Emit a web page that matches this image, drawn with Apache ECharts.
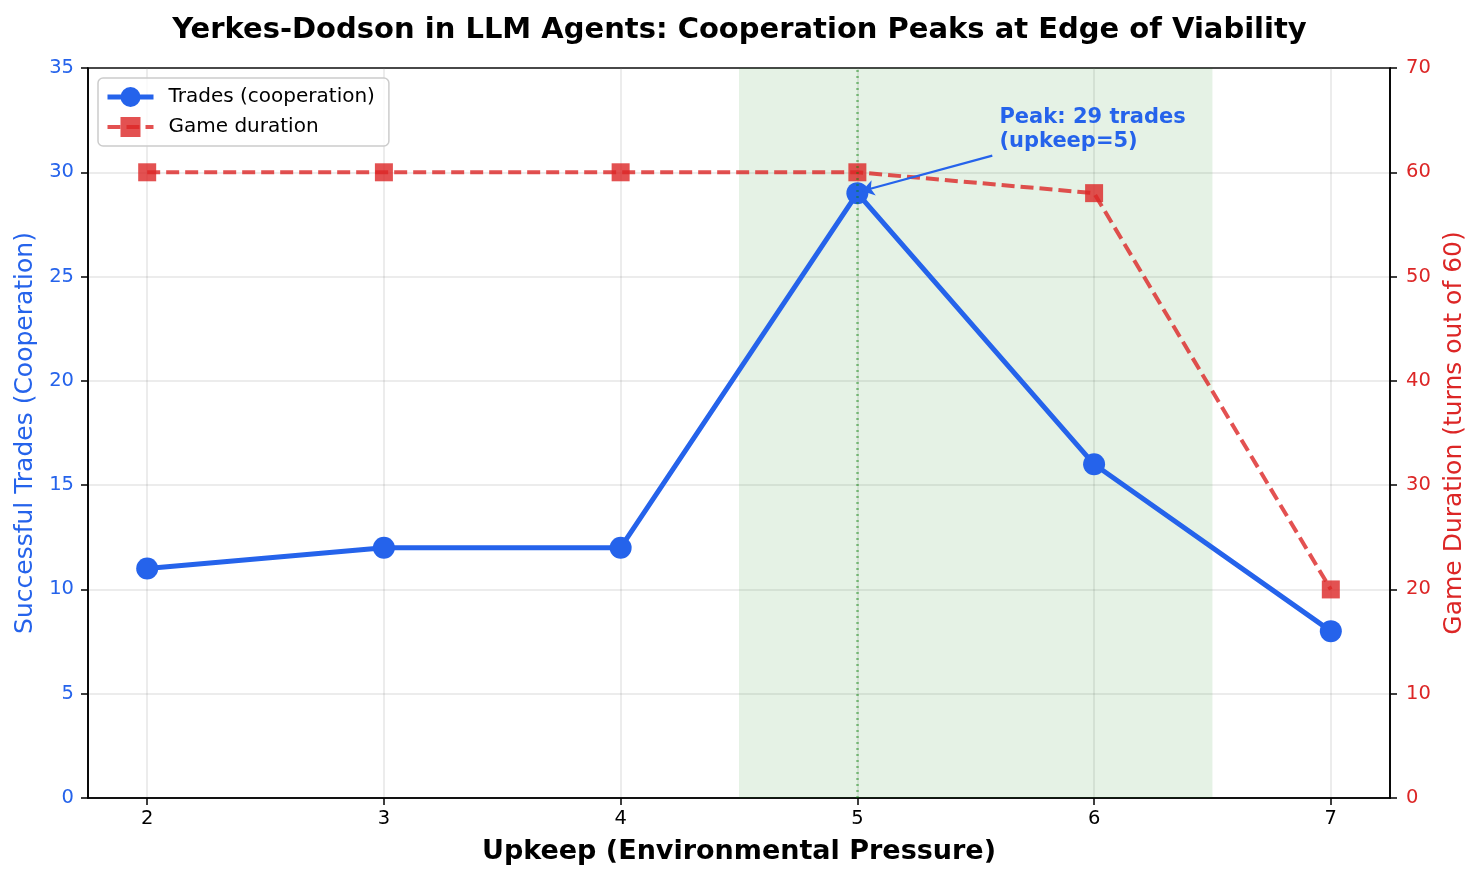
<!DOCTYPE html>
<html>
<head>
<meta charset="utf-8">
<script src="https://cdn.jsdelivr.net/npm/echarts@6/dist/echarts.min.js"></script>
<style>html,body{margin:0;padding:0;background:#fff}#c{width:1479px;height:882px}</style>
</head>
<body>
<div id="c"></div>
<script>
const upkeep = [2, 3, 4, 5, 6, 7];
const trades = [11, 12, 12, 29, 16, 8];
const duration = [60, 60, 60, 60, 58, 20];
const xTicks = [2, 3, 4, 5, 6, 7];
const leftTicks = [0, 5, 10, 15, 20, 25, 30, 35];
const rightTicks = [0, 10, 20, 30, 40, 50, 60, 70];
const peakIdx = 3;
const shadeRange = [4.5, 6.5];

const BLUE = '#2563eb';
const RED = '#dc2626';
const REDA = 'rgba(220,38,38,0.8)';
const FONT = 'DejaVu Sans';
const GRIDC = 'rgba(128,128,128,0.2)';

const chart = echarts.init(document.getElementById('c'), null, {renderer: 'canvas'});
const option = {
  backgroundColor: '#fff',
  animation: false,
  textStyle: {fontFamily: FONT},
  title: {
    text: 'Yerkes-Dodson in LLM Agents: Cooperation Peaks at Edge of Viability',
    left: 'center', top: 11,
    textStyle: {fontFamily: FONT, fontWeight: 'bold', fontSize: 29, color: '#000'}
  },
  grid: {left: 88, right: 89, top: 68, bottom: 84, show: true, borderColor: '#000', borderWidth: 1.6, backgroundColor: 'transparent'},
  legend: {
    left: 98, top: 78, orient: 'vertical',
    padding: [9, 14, 9, 7], itemGap: 10, itemWidth: 46, itemHeight: 25,
    borderColor: '#cccccc', borderWidth: 1.5, borderRadius: 5, backgroundColor: 'rgba(255,255,255,0.8)',
    lineStyle: {width: 'inherit'},
    textStyle: {fontFamily: FONT, fontSize: 20, color: '#000', padding: [0, 0, 0, 10]},
    data: ['Trades (cooperation)', 'Game duration']
  },
  xAxis: {
    type: 'value', min: 1.75, max: 7.25,
    name: 'Upkeep (Environmental Pressure)', nameLocation: 'middle', nameGap: 40,
    nameTextStyle: {fontFamily: FONT, fontWeight: 'bold', fontSize: 27, color: '#000'},
    axisLine: {show: true, onZero: false, lineStyle: {color: '#000', width: 1.6}},
    axisTick: {show: true, length: 7, lineStyle: {color: '#000', width: 1.5}, customValues: xTicks},
    axisLabel: {fontFamily: FONT, fontSize: 19.5, color: '#000', margin: 11, customValues: xTicks, formatter: v => String(v)},
    splitLine: {show: true, lineStyle: {color: GRIDC, width: 1.5}}
  },
  yAxis: [
    {
      type: 'value', min: 0, max: 35, interval: 5, position: 'left',
      name: 'Successful Trades (Cooperation)', nameLocation: 'middle', nameGap: 49,
      nameTextStyle: {fontFamily: FONT, fontSize: 25, color: BLUE},
      axisLine: {show: true, lineStyle: {color: '#000', width: 1.6}},
      axisTick: {show: true, length: 7, lineStyle: {color: '#000', width: 1.5}},
      axisLabel: {fontFamily: FONT, fontSize: 19.5, color: BLUE, margin: 14},
      splitLine: {show: true, lineStyle: {color: GRIDC, width: 1.5}}
    },
    {
      type: 'value', min: 0, max: 70, interval: 10, position: 'right',
      name: 'Game Duration (turns out of 60)', nameLocation: 'middle', nameGap: 49,
      nameTextStyle: {fontFamily: FONT, fontSize: 25, color: RED},
      axisLine: {show: true, lineStyle: {color: '#000', width: 1.6}},
      axisTick: {show: true, length: 7, lineStyle: {color: '#000', width: 1.5}},
      axisLabel: {fontFamily: FONT, fontSize: 19.5, color: RED, margin: 16},
      splitLine: {show: false}
    }
  ],
  series: [
    {
      name: 'Trades (cooperation)', type: 'line', yAxisIndex: 0, z: 3,
      data: upkeep.map((u, i) => [u, trades[i]]),
      symbol: 'circle', symbolSize: 22,
      itemStyle: {color: BLUE},
      lineStyle: {color: BLUE, width: 5},
      markArea: {
        silent: true,
        itemStyle: {color: 'rgba(0,128,0,0.1)'},
        data: [[{xAxis: shadeRange[0]}, {xAxis: shadeRange[1]}]]
      },
      markLine: {
        silent: true, symbol: ['none', 'none'],
        label: {show: false},
        lineStyle: {color: 'rgba(0,128,0,0.45)', type: [2, 4], width: 2.5},
        data: [{xAxis: upkeep[peakIdx]}]
      }
    },
    {
      name: 'Game duration', type: 'line', yAxisIndex: 1, z: 4,
      data: upkeep.map((u, i) => [u, duration[i]]),
      symbol: 'rect', symbolSize: 18,
      itemStyle: {color: REDA},
      lineStyle: {color: REDA, width: 4, type: [13, 6]}
    },
    {
      name: 'annot', type: 'line', yAxisIndex: 0, z: 6, data: [],
      markLine: {
        silent: true, symbol: ['none', 'arrow'], symbolSize: 12,
        label: {show: false},
        lineStyle: {color: BLUE, width: 2.2, type: 'solid'},
        data: [[{coord: [5.57, 30.8]}, {coord: [upkeep[peakIdx] + 0.02, trades[peakIdx] + 0.1]}]]
      },
      markPoint: {
        silent: true, symbol: 'circle', symbolSize: 0,
        label: {
          show: true, position: [0, 0], align: 'left', verticalAlign: 'bottom',
          formatter: 'Peak: ' + trades[peakIdx] + ' trades\n(upkeep=' + upkeep[peakIdx] + ')',
          fontFamily: FONT, fontWeight: 'bold', fontSize: 21, color: BLUE, lineHeight: 24
        },
        data: [{coord: [5.6, 30.9]}]
      }
    }
  ]
};
chart.setOption(option);
</script>
</body>
</html>
